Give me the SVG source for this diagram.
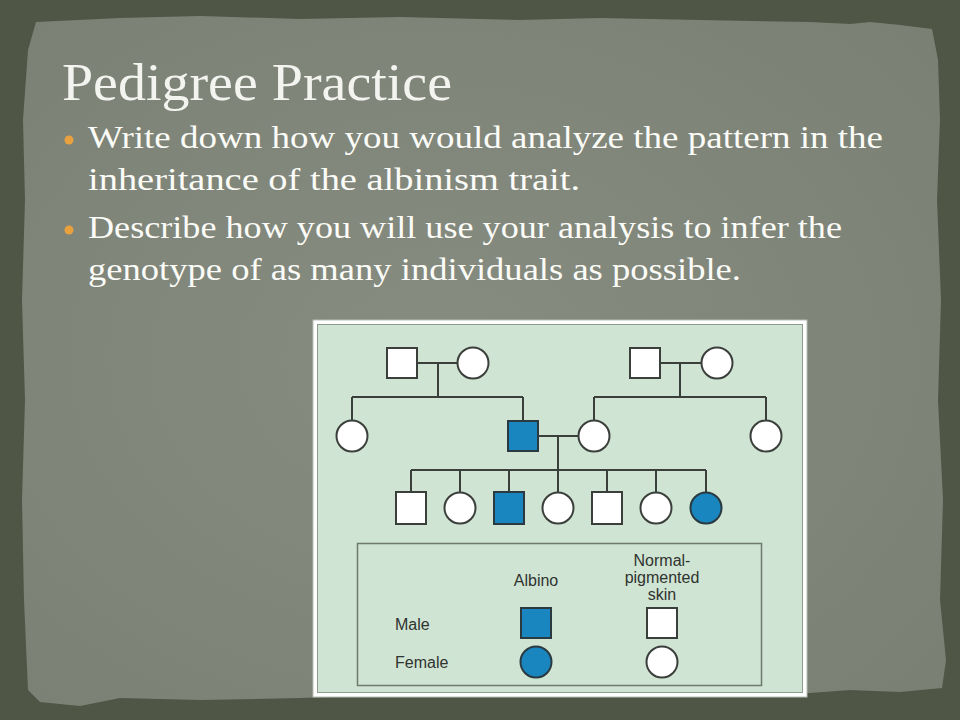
<svg xmlns="http://www.w3.org/2000/svg" width="960" height="720" viewBox="0 0 960 720">
<defs>
<style>
.title{font-family:"Liberation Serif","DejaVu Serif",serif;font-size:52px;fill:#f3f3ef}
.body{font-family:"Liberation Serif","DejaVu Serif",serif;font-size:31px;fill:#fbfbf7}
.lg{font-family:"Liberation Sans",Arial,sans-serif;font-size:16px;fill:#2f332f}
.ln{stroke:#3b3f3b;stroke-width:2;fill:none}
.wh{fill:#ffffff;stroke:#3b3f3b;stroke-width:2}
.bl{fill:#1a86bf;stroke:#2a3a40;stroke-width:2}
.dot{fill:#e9a13f}
</style>
<radialGradient id="paper" cx="0.45" cy="0.5" r="0.7">
<stop offset="0" stop-color="#878c81"/>
<stop offset="1" stop-color="#7a8174"/>
</radialGradient>
</defs>
<rect x="0" y="0" width="960" height="720" fill="#4f5646"/>
<path d="M36,22 L120,18 L200,16 L300,19 L400,17 L520,20 L600,18 L700,20 L810,22 L850,24 L870,22 L900,25 L932,29 L938,60 L940,120 L937,200 L941,300 L938,400 L943,500 L940,600 L946,660 L942,688 L900,692 L850,690 L810,693 L700,696 L600,697 L520,695 L420,694 L300,698 L200,700 L120,698 L80,706 L40,702 L28,690 L24,600 L22,500 L25,400 L22,300 L25,200 L23,120 L28,50 Z" fill="url(#paper)"/>

<g id="title"><text class="title" x="62" y="100" textLength="390" lengthAdjust="spacingAndGlyphs">Pedigree Practice</text></g>
<g id="bullets">
<circle class="dot" cx="69" cy="140" r="4.5"/>
<text class="body" x="88" y="148" textLength="795" lengthAdjust="spacingAndGlyphs">Write down how you would analyze the pattern in the</text>
<text class="body" x="88" y="190" textLength="492" lengthAdjust="spacingAndGlyphs">inheritance of the albinism trait.</text>
<circle class="dot" cx="69" cy="230" r="4.5"/>
<text class="body" x="88" y="238" textLength="754" lengthAdjust="spacingAndGlyphs">Describe how you will use your analysis to infer the</text>
<text class="body" x="88" y="280" textLength="653" lengthAdjust="spacingAndGlyphs">genotype of as many individuals as possible.</text>
</g>

<g id="figure-frame">
<rect x="313" y="320" width="494" height="377" fill="#ffffff" stroke="#b9bdb5" stroke-width="1"/>
<rect x="317.5" y="324.5" width="485" height="368" fill="#cfe4d3" stroke="#8f9a8f" stroke-width="1"/>
</g>

<g id="connectors">
<path class="ln" d="M417,363 H458 M438,363 V397 M352,397 H523 M352,397 V420 M523,397 V420"/>
<path class="ln" d="M660,363 H701 M680,363 V397 M594,397 H766 M594,397 V420 M766,397 V420"/>
<path class="ln" d="M538,436 H578 M558,436 V470 M411,470 H706 M411,470 V492 M460,470 V492 M509,470 V492 M558,470 V492 M607,470 V492 M656,470 V492 M706,470 V492"/>
</g>

<g id="gen1-m1"><rect class="wh" x="387" y="348" width="30" height="30"/></g>
<g id="gen1-f1"><circle class="wh" cx="473" cy="363" r="15.5"/></g>
<g id="gen1-m2"><rect class="wh" x="630" y="348" width="30" height="30"/></g>
<g id="gen1-f2"><circle class="wh" cx="717" cy="363" r="15.5"/></g>

<g id="gen2-f1"><circle class="wh" cx="352" cy="436" r="15.5"/></g>
<g id="gen2-m"><rect class="bl" x="508" y="421" width="30" height="30"/></g>
<g id="gen2-f2"><circle class="wh" cx="594" cy="436" r="15.5"/></g>
<g id="gen2-f3"><circle class="wh" cx="766" cy="436" r="15.5"/></g>

<g id="gen3-1"><rect class="wh" x="396" y="492" width="30" height="32"/></g>
<g id="gen3-2"><circle class="wh" cx="460" cy="508" r="15.5"/></g>
<g id="gen3-3"><rect class="bl" x="494" y="492" width="30" height="32"/></g>
<g id="gen3-4"><circle class="wh" cx="558" cy="508" r="15.5"/></g>
<g id="gen3-5"><rect class="wh" x="592" y="492" width="30" height="32"/></g>
<g id="gen3-6"><circle class="wh" cx="656" cy="508" r="15.5"/></g>
<g id="gen3-7"><circle class="bl" cx="706" cy="508" r="15.5"/></g>

<g id="legend">
<rect x="357.5" y="543.5" width="404" height="142" fill="none" stroke="#6e7a6e" stroke-width="1.5"/>
<text class="lg" x="536" y="586" text-anchor="middle">Albino</text>
<text class="lg" x="662" y="566" text-anchor="middle">Normal-</text>
<text class="lg" x="662" y="583" text-anchor="middle">pigmented</text>
<text class="lg" x="662" y="600" text-anchor="middle">skin</text>
<text class="lg" x="395" y="630">Male</text>
<text class="lg" x="395" y="668">Female</text>
<rect class="bl" x="521" y="608" width="30" height="30"/>
<rect class="wh" x="647" y="608" width="30" height="30"/>
<circle class="bl" cx="536" cy="662" r="15.5"/>
<circle class="wh" cx="662" cy="662" r="15.5"/>
</g>
</svg>
